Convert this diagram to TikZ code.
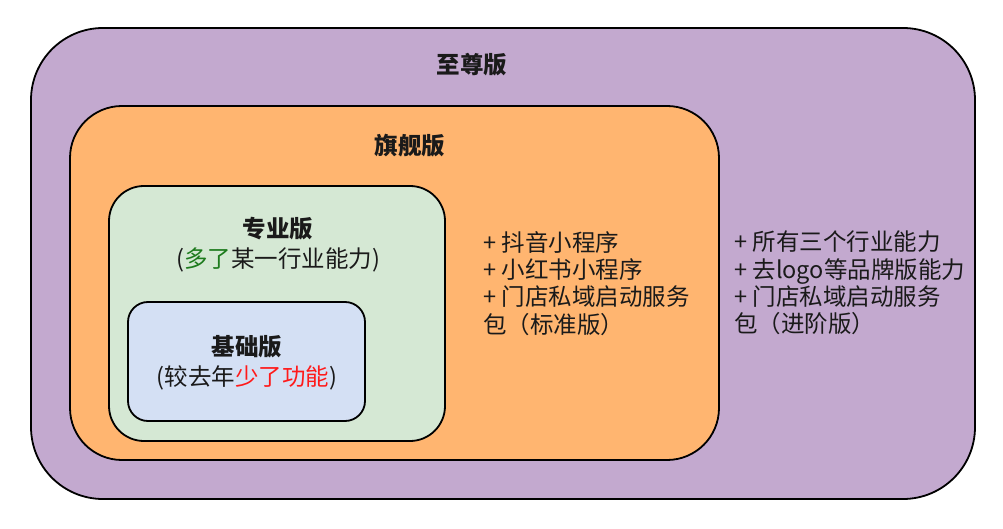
\documentclass[tikz,border=0pt]{standalone}
\usepackage{fontspec}
\setmainfont{Noto Sans CJK SC}
\definecolor{cpurple}{HTML}{C3A9CF}
\definecolor{corange}{HTML}{FFB570}
\definecolor{cgreen}{HTML}{D5E8D4}
\definecolor{cblue}{HTML}{D4E0F4}
\definecolor{cdgreen}{HTML}{1E7B1E}
\definecolor{cred}{HTML}{FF1A1A}
\definecolor{ctext}{HTML}{1A1A1A}
\begin{document}
\begin{tikzpicture}[x=1pt,y=-1pt,
  box/.style={draw=black,line width=1.8pt},
  lbl/.style={inner sep=0pt,text=ctext,font=\fontsize{23.5}{27}\selectfont,align=center},
  ttl/.style={lbl,font=\fontsize{23.5}{27}\selectfont\bfseries},
  lst/.style={inner sep=0pt,text=ctext,font=\fontsize{23.5}{27.3}\selectfont,align=left,anchor=north west}]
\useasboundingbox (0,0) rectangle (1003,529);
\draw[box,fill=cpurple,rounded corners=72pt] (31,28) rectangle (975,499);
\draw[box,fill=corange,rounded corners=52pt] (70,106) rectangle (719,460);
\draw[box,fill=cgreen,rounded corners=35pt] (109,186) rectangle (445,441);
\draw[box,fill=cblue,rounded corners=20pt] (128,302) rectangle (365,421);
\node[ttl] (zz) at (472,65) {至尊版};
\node[ttl] (qj) at (410,146) {旗舰版};
\node[ttl] (zy) at (278,229) {专业版};
\node[lbl] (zyd) at (278,260) {({\color{cdgreen}多了}某一行业能力)};
\node[ttl] (jc) at (247,347) {基础版};
\node[lbl] (jcd) at (247,378) {(较去年{\color{cred}少了功能})};
\node[lst] (ql) at (483,231) {+ 抖音小程序\\+ 小红书小程序\\+ 门店私域启动服务\\包（标准版）};
\node[lst] (zl) at (734,231) {+ 所有三个行业能力\\+ 去logo等品牌版能力\\+ 门店私域启动服务\\包（进阶版）};
\end{tikzpicture}
\end{document}
